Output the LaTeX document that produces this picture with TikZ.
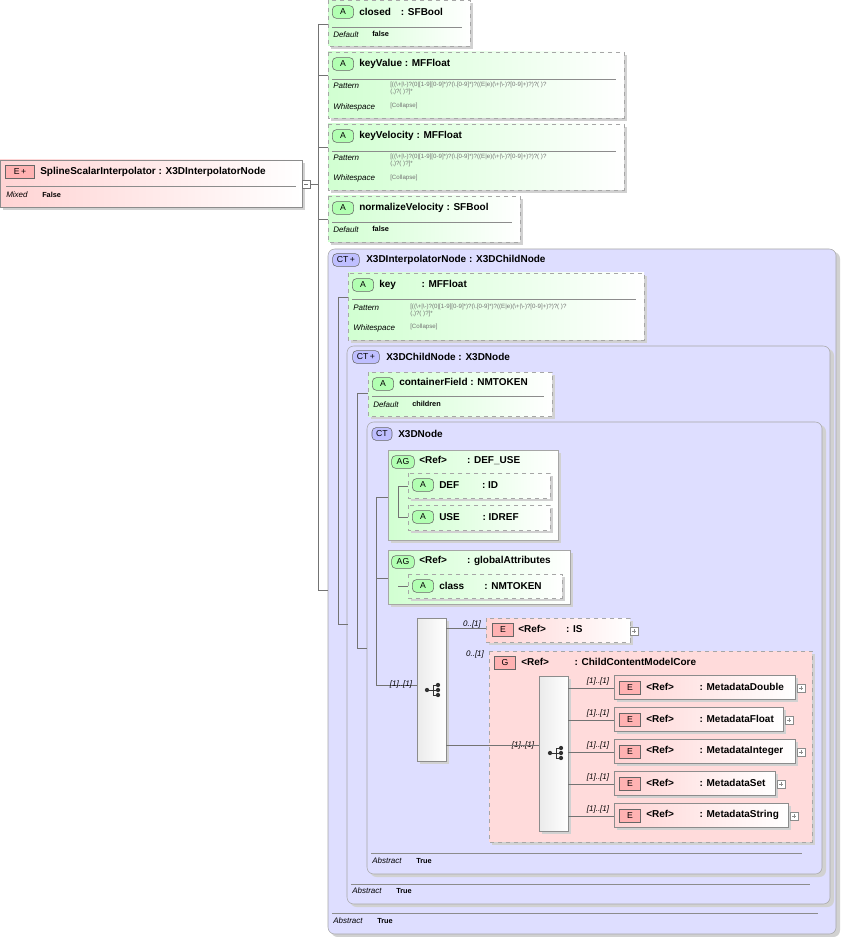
\documentclass[tikz,border=0pt]{standalone}
\usepackage{fontspec}
\setmainfont{Liberation Sans}
\begin{document}
\begin{tikzpicture}[x=0.75pt,y=-0.75pt,
  attr/.style={draw=black!35,dashed,left color=green!18,right color=white},
  ctb/.style={draw=black!35,rounded corners=5pt,fill=blue!13!white},
  elem/.style={draw=black!45,left color=red!17,right color=white},
  grp/.style={draw=black!35,dashed,fill=red!14},
  shad/.style={fill=black!18},
  badgeA/.style={draw=black!60,fill=green!30,rounded corners=3pt,font=\fontsize{6.5}{7}\selectfont,inner sep=0pt,minimum width=16pt,minimum height=9.5pt},
  badgeE/.style={draw=black!60,fill=red!30,inner sep=0pt,font=\fontsize{6.5}{7}\selectfont,minimum width=16pt,minimum height=10pt},
  badgeC/.style={draw=black!60,fill=blue!25,rounded corners=3pt,inner sep=0pt,font=\fontsize{6.5}{7}\selectfont,minimum width=20pt,minimum height=9.5pt},
  ttl/.style={anchor=west,font=\bfseries\fontsize{7.5}{8}\selectfont,inner sep=0pt},
  lbl/.style={anchor=west,font=\itshape\fontsize{6}{6}\selectfont,inner sep=0pt},
  val/.style={anchor=west,font=\bfseries\fontsize{5.5}{6}\selectfont,inner sep=0pt},
  pat/.style={anchor=north west,font=\fontsize{4.6}{5.2}\selectfont,text=black!55,inner sep=0pt,align=left},
  card/.style={font=\itshape\fontsize{6}{6}\selectfont,inner sep=0pt},
  conn/.style={draw=black!55,line width=0.5pt},
  seqb/.style={draw=black!45,left color=black!8,right color=white}]
\useasboundingbox (0,0) rectangle (842,937);
\newcommand{\patt}{[((\textbackslash+|\textbackslash-)?(0|[1-9][0-9]*)?(\textbackslash.[0-9]*)?((E|e)(\textbackslash+|\textbackslash-)?[0-9]+)?)?( )?\\(,)?( )?]*}
% ---------- CT boxes
\fill[shad,rounded corners=5pt] (331,252) rectangle (840,937);
\draw[ctb] (328,249) rectangle (836,934);
\fill[shad,rounded corners=5pt] (350,349) rectangle (834,907);
\draw[ctb] (347,346) rectangle (830,904);
\fill[shad,rounded corners=5pt] (370,425) rectangle (826,877);
\draw[ctb] (367,422) rectangle (822,874);
\node[badgeC] (ct1) at (346,260) {CT\,+};
\node[ttl] (ct1t) at (366,260) {X3DInterpolatorNode : X3DChildNode};
\node[badgeC] (ct2) at (366,357) {CT\,+};
\node[ttl] (ct2t) at (386,357) {X3DChildNode : X3DNode};
\node[badgeC,minimum width=15pt] (ct3) at (382,434) {CT};
\node[ttl] (ct3t) at (398,434) {X3DNode};
\draw[black!45] (371,853) -- (802,853) (351,884) -- (810,884) (332,913) -- (818,913);
\node[lbl] (ab3) at (372,861) {Abstract}; \node[val] (ab3v) at (416,861) {True};
\node[lbl] (ab2) at (352,891) {Abstract}; \node[val] (ab2v) at (396,891) {True};
\node[lbl] (ab1) at (333,921) {Abstract}; \node[val] (ab1v) at (377,921) {True};
% ---------- main element
\fill[shad] (3,163) rectangle (305,210);
\draw[elem] (0,160) rectangle (302,207);
\node[badgeE,minimum width=22pt] (eb) at (20,172) {E\,+};
\node[ttl] (mt) at (40,172) {SplineScalarInterpolator : X3DInterpolatorNode};
\draw[black!45] (6,186) -- (296,186);
\node[lbl] (mx) at (6,195) {Mixed}; \node[val] (mxv) at (42,195) {False};
\draw[black!55,fill=white] (302,180) rectangle (310,188);
\draw[black!55] (304,184) -- (308,184);
\coordinate (mainout) at (310,184);
% ---------- attribute boxes
\newcommand{\attrb}[5]{\fill[shad] (#2+3,#3+3) rectangle (#4+3,#5+3); \draw[attr] (#2,#3) rectangle (#4,#5); \node[badgeA] (#1b) at (#2+15,#3+12) {A};}
\attrb{cl}{328}{0}{470}{46}
\node[ttl] (clt) at (359,12) {closed\quad : SFBool};
\draw[black!45] (332,27) -- (462,27);
\node[lbl] (cld) at (333,35) {Default}; \node[val] (cldv) at (372,34) {false};
\attrb{kv}{328}{52}{624}{118}
\node[ttl] (kvt) at (359,64) {keyValue : MFFloat};
\draw[black!45] (332,79) -- (616,79);
\node[lbl] (kvp) at (333,86) {Pattern}; \node[pat] (kvpv) at (390,82) {\patt};
\node[lbl] (kvw) at (333,107) {Whitespace}; \node[pat,anchor=west] (kvwv) at (390,106) {[Collapse]};
\attrb{kx}{328}{124}{624}{190}
\node[ttl] (kxt) at (359,136) {keyVelocity : MFFloat};
\draw[black!45] (332,151) -- (616,151);
\node[lbl] (kxp) at (333,158) {Pattern}; \node[pat] (kxpv) at (390,154) {\patt};
\node[lbl] (kxw) at (333,178) {Whitespace}; \node[pat,anchor=west] (kxwv) at (390,178) {[Collapse]};
\attrb{nv}{328}{196}{520}{242}
\node[ttl] (nvt) at (359,208) {normalizeVelocity : SFBool};
\draw[black!45] (332,222) -- (512,222);
\node[lbl] (nvd) at (333,230) {Default}; \node[val] (nvdv) at (372,229) {false};
\attrb{ky}{348}{273}{644}{340}
\node[ttl] (kyt) at (379,285) {key\qquad\ \ : MFFloat};
\draw[black!45] (352,299) -- (636,299);
\node[lbl] (kyp) at (353,308) {Pattern}; \node[pat] (kypv) at (410,304) {\patt};
\node[lbl] (kyw) at (353,328) {Whitespace}; \node[pat,anchor=west] (kywv) at (410,327) {[Collapse]};
\attrb{cf}{368}{372}{552}{416}
\node[ttl] (cft) at (399,382) {containerField : NMTOKEN};
\draw[black!45] (372,396) -- (544,396);
\node[lbl] (cfd) at (373,405) {Default}; \node[val] (cfdv) at (412,404) {children};
% AG boxes
\fill[shad] (391,453) rectangle (561,543);
\draw[attr,solid] (388,450) rectangle (558,540);
\node[badgeA,minimum width=17pt] (ag1) at (403,462) {AG};
\node[ttl] (ag1t) at (419,460) {<Ref>\qquad : DEF\_USE};
\attrb{df}{408}{473}{550}{498}
\node[ttl] (dft) at (439,485) {DEF\qquad\ : ID};
\attrb{us}{408}{505}{550}{530}
\node[ttl] (ust) at (439,517) {USE\qquad\ : IDREF};
\fill[shad] (391,553) rectangle (573,607);
\draw[attr,solid] (388,550) rectangle (570,604);
\node[badgeA,minimum width=17pt] (ag2) at (403,562) {AG};
\node[ttl] (ag2t) at (419,561) {<Ref>\qquad : globalAttributes};
\attrb{cs}{408}{574}{562}{598}
\node[ttl] (cst) at (439,586) {class\qquad : NMTOKEN};
% ---------- sequence and group
\fill[shad] (420,621) rectangle (449,764);
\draw[seqb] (417,618) rectangle (446,761);
\newcommand{\seqicon}[2]{\draw[black!80,line width=0.6pt] (#1-5,#2) -- (#1+1,#2) (#1+1,#2-5) -- (#1+1,#2+5) (#1+1,#2-5) -- (#1+5,#2-5) (#1+1,#2) -- (#1+5,#2) (#1+1,#2+5) -- (#1+5,#2+5); \fill[black!80] (#1-5,#2) circle (1.6pt) (#1+6,#2-5) circle (1.6pt) (#1+6,#2) circle (1.6pt) (#1+6,#2+5) circle (1.6pt);}
\seqicon{432}{690}
\fill[shad] (489,621) rectangle (633,645);
\draw[elem,dashed,draw=black!35] (486,618) rectangle (630,642);
\node[badgeE] (isb) at (503,630) {E};
\node[ttl] (ist) at (518,629) {<Ref>\qquad : IS};
\draw[black!45,fill=white] (630,627) rectangle (638,635); \draw[black!45] (632,631) -- (636,631) (634,629) -- (634,633);
\fill[shad] (492,654) rectangle (815,845);
\draw[grp] (489,651) rectangle (812,842);
\node[badgeE] (gb) at (505,663) {G};
\node[ttl] (gt) at (521,662) {<Ref>\qquad\ \ : ChildContentModelCore};
\fill[shad] (542,679) rectangle (571,834);
\draw[seqb] (539,676) rectangle (568,831);
\seqicon{555}{753}
\node[card] (c0) at (523,745) {[1]..[1]};
\draw[conn] (489,745) -- (539,745);
\newcommand{\mel}[4]{\fill[shad] (617,#2-9) rectangle (#3+3,#2+15); \draw[elem] (614,#2-12) rectangle (#3,#2+12);
 \node[badgeE] (#1b) at (630,#2+1) {E}; \node[ttl] (#1t) at (646,#2) {<Ref>\qquad\ \ : #4};
 \draw[black!45,fill=white] (#3+2,#2-3) rectangle (#3+10,#2+5); \draw[black!45] (#3+4,#2+1) -- (#3+8,#2+1) (#3+6,#2-1) -- (#3+6,#2+3);
 \draw[conn] (568,#2+1) -- (614,#2+1); \node[card] at (598,#2-6) {[1]..[1]};}
\mel{m1}{687}{795}{MetadataDouble}
\mel{m2}{719}{783}{MetadataFloat}
\mel{m3}{751}{795}{MetadataInteger}
\mel{m4}{783}{775}{MetadataSet}
\mel{m5}{815}{788}{MetadataString}
% ---------- connectors
\draw[conn] (mainout) -- (318,184);
\draw[conn] (318,24) -- (318,590);
\foreach \y in {24,75,147,219,590} \draw[conn] (318,\y) -- (328,\y);
\draw[conn] (338,297) -- (338,624);
\foreach \y in {297,624} \draw[conn] (338,\y) -- (348,\y);
\draw[conn] (357,393) -- (357,648);
\draw[conn] (357,393) -- (368,393) (357,648) -- (367,648);
\draw[conn] (376,497) -- (376,685);
\draw[conn] (376,497) -- (388,497) (376,578) -- (388,578) (376,685) -- (417,685);
\node[card] (c1) at (401,684) {[1]..[1]};
\draw[conn] (398,486) -- (398,517) (398,486) -- (408,486) (398,517) -- (408,517);
\draw[conn] (398,586) -- (408,586);
\draw[conn] (446,628) -- (486,628);
\node[card] (c2) at (472,624) {0..[1]};
\draw[conn] (446,745) -- (489,745);
\node[card] (c3) at (475,654) {0..[1]};
\end{tikzpicture}
\end{document}
